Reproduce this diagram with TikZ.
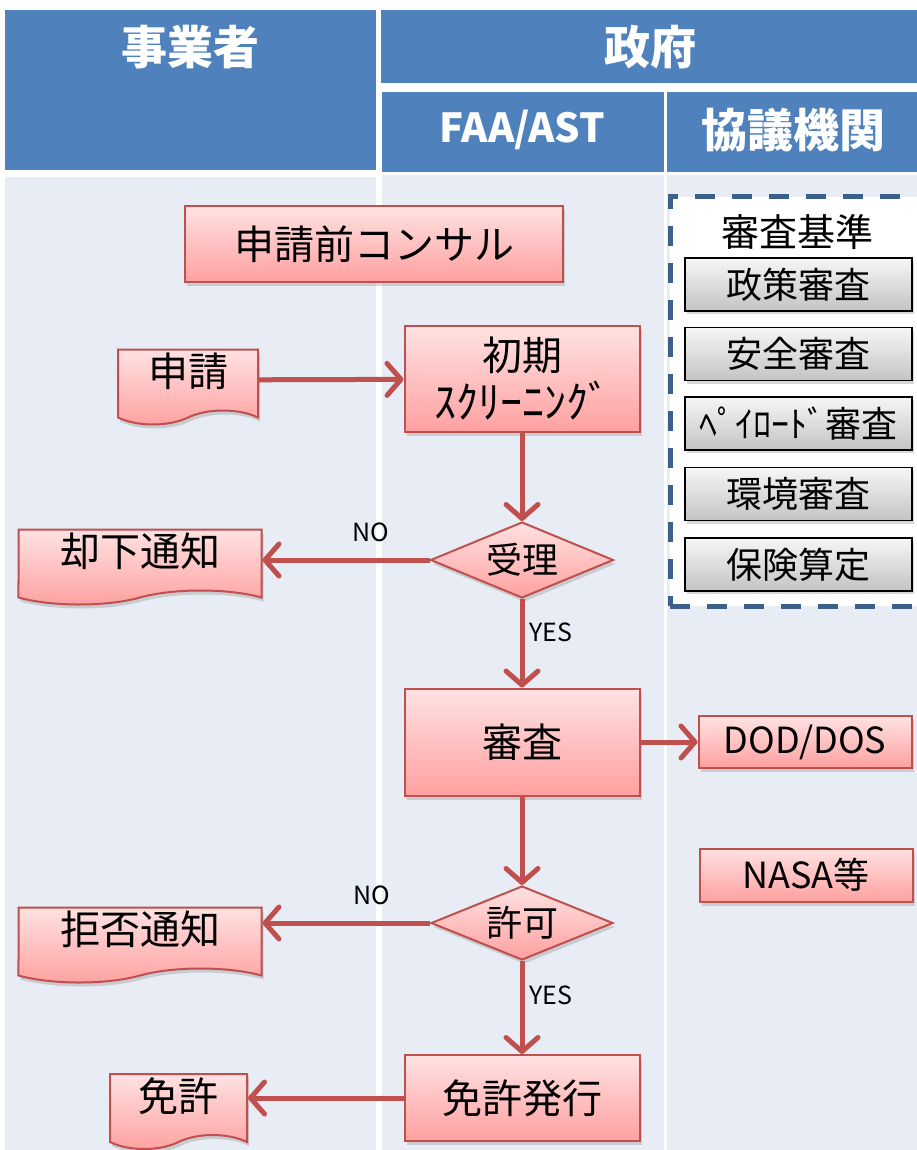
\documentclass[tikz,border=0pt]{standalone}
\usepackage{fontspec}
\setmainfont{Noto Sans CJK JP}
\usepackage{tikz}
\usetikzlibrary{shapes.geometric, shapes.symbols, arrows.meta, positioning, shadows}
\usepackage{xcolor}
\definecolor{headblue}{RGB}{79,129,189}
\definecolor{lanebg}{RGB}{232,236,244}
\definecolor{pinktop}{RGB}{255,226,226}
\definecolor{pinkbot}{RGB}{255,160,160}
\definecolor{flowred}{RGB}{192,80,77}
\definecolor{dashblue}{RGB}{60,96,140}
\definecolor{graytop}{RGB}{246,246,246}
\definecolor{graybot}{RGB}{196,196,196}

\begin{document}
\begin{tikzpicture}[x=1pt, y=-1pt,
    box/.style={draw=flowred, line width=2pt, top color=pinktop, bottom color=pinkbot, drop shadow={shadow xshift=2pt, shadow yshift=-4pt, opacity=.3}, font=\fontsize{40}{48}\selectfont, align=center, inner sep=0pt},
    doc/.style={box, tape, tape bend top=none, tape bend bottom=in and out, tape bend height=14pt, text depth=20pt},
    decision/.style={box, diamond, aspect=2.4, font=\fontsize{36}{40}\selectfont},
    critbox/.style={draw=black, line width=1.5pt, top color=graytop, bottom color=graybot, drop shadow={shadow xshift=2pt, shadow yshift=-3pt, opacity=.3}, font=\fontsize{36}{40}\selectfont, minimum width=227pt, minimum height=53pt, inner sep=0pt},
    head/.style={text=white, font=\fontsize{46}{50}\selectfont\bfseries},
    flow/.style={draw=flowred, line width=5pt, -{Straight Barb[length=14pt, width=32pt, round]}},
    tag/.style={font=\fontsize{25}{28}\selectfont, inner sep=0pt}]
    \useasboundingbox (0,0) rectangle (917,1150);

    \fill[headblue] (5,10) rectangle (376,170);
    \fill[headblue] (381,10) rectangle (917,83);
    \fill[headblue] (382,92) rectangle (664,172);
    \fill[headblue] (667,92) rectangle (917,172);
    \fill[lanebg] (5,177) rectangle (376,1150);
    \fill[lanebg] (382,175) rectangle (664,1150);
    \fill[lanebg] (667,175) rectangle (917,1150);

    \node[head] (bizhead) at (190,47) {事業者};
    \node[head] (govhead) at (650,47) {政府};
    \node[head, font=\fontsize{40}{44}\selectfont\bfseries] (faahead) at (522,130) {FAA/AST};
    \node[head] (councilhead) at (793,130) {協議機関};

    \node[draw=dashblue, line width=5pt, dash pattern=on 20pt off 17pt, fill=white, minimum width=262pt, minimum height=409pt] (criteria) at (801,401.5) {};
    \node[font=\fontsize{38}{42}\selectfont] (crittitle) at (797,232) {審査基準};
    \node[critbox] (policy) at (798.5,284.5) {政策審査};
    \node[critbox, below=15pt of policy] (safety) {安全審査};
    \node[critbox, below=15pt of safety] (payload) {ﾍﾟｲﾛｰﾄﾞ審査};
    \node[critbox, below=16pt of payload] (environ) {環境審査};
    \node[critbox, below=16pt of environ] (insure) {保険算定};

    \node[box, minimum width=378pt, minimum height=76pt] (consult) at (374,244) {申請前コンサル};
    \node[doc, minimum width=140pt, minimum height=75pt] (apply) at (188,380) {申請};
    \node[box, minimum width=235pt, minimum height=106pt] (screen) at (522,379) {初期\\{\fontsize{44}{48}\selectfont ｽｸﾘｰﾆﾝｸﾞ}};
    \node[decision, minimum width=183pt, minimum height=76pt] (accept) at (522,560) {受理};
    \node[doc, minimum width=243pt, minimum height=75pt] (dismiss) at (140,560) {却下通知};
    \node[box, minimum width=235pt, minimum height=107pt] (review) at (522,742) {審査};
    \node[box, font=\fontsize{36}{40}\selectfont, minimum width=213pt, minimum height=52pt] (dod) at (805,742) {DOD/DOS};
    \node[box, font=\fontsize{36}{40}\selectfont, minimum width=213pt, minimum height=53pt] (nasa) at (806,875) {NASA等};
    \node[decision, minimum width=182pt, minimum height=74pt] (permit) at (522,923) {許可};
    \node[doc, minimum width=243pt, minimum height=75pt] (deny) at (140,938) {拒否通知};
    \node[box, minimum width=235pt, minimum height=86pt] (issue) at (522,1098) {免許発行};
    \node[doc, minimum width=137pt, minimum height=75pt] (license) at (178.5,1104.5) {免許};

    \draw[flow] (apply) -- (screen);
    \draw[flow] (screen) -- (accept);
    \draw[flow] (accept.west) -- node[tag, pos=0.35, above=16pt] (nolabel) {NO} (accept.west -| dismiss.east);
    \draw[flow] (accept) -- node[tag, pos=0.38, right=5pt] (yeslabel) {YES} (review);
    \draw[flow] (review) -- (dod);
    \draw[flow] (review) -- (permit);
    \draw[flow] (permit.west) -- node[tag, pos=0.35, above=16pt] (nolabel2) {NO} (permit.west -| deny.east);
    \draw[flow] (permit) -- node[tag, pos=0.37, right=5pt] (yeslabel2) {YES} (issue);
    \draw[flow] (issue.west) -- (issue.west -| license.east);
\end{tikzpicture}
\end{document}
